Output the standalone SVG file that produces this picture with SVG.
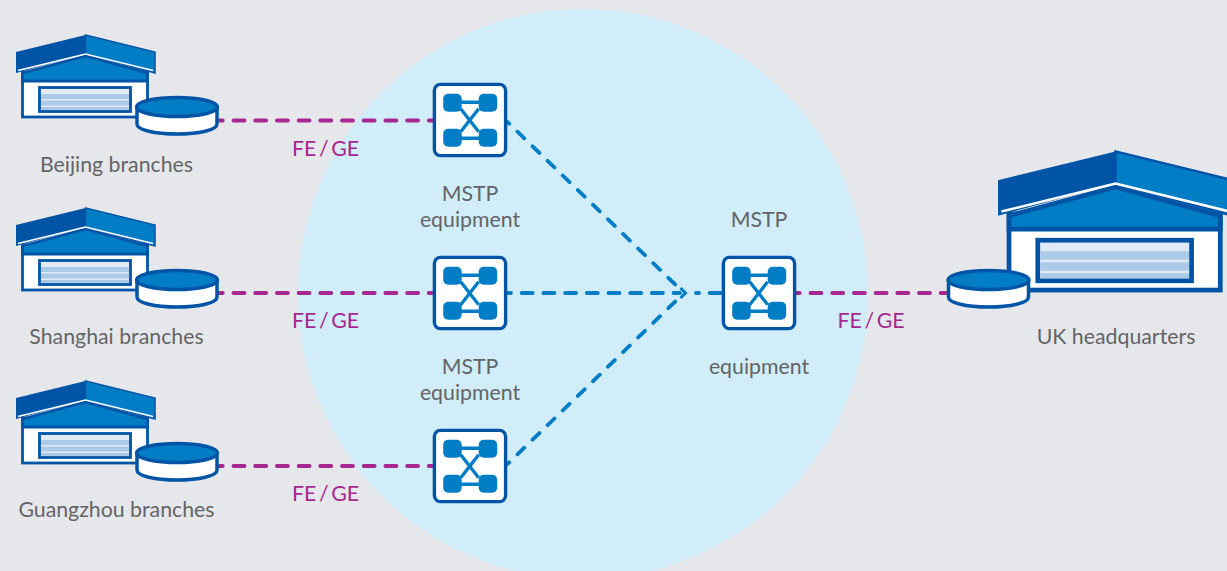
<svg xmlns="http://www.w3.org/2000/svg" width="1227" height="571" viewBox="0 0 1227 571">
<style>
text{font-family:Lato,"Liberation Sans",sans-serif;font-size:21.300px;fill:#636466;text-anchor:middle}
text.fe{fill:#a6278f;word-spacing:-2.800px}
.s{stroke:#0054a6;stroke-width:2.800;stroke-linejoin:miter}
.pl{stroke:#a6278f;stroke-width:3.800;stroke-linecap:round;stroke-dasharray:11 10.700;stroke-dashoffset:7.200;fill:none}
.bl{stroke:#007dc5;stroke-width:3.800;stroke-linecap:round;stroke-dasharray:11 10.700;stroke-dashoffset:8;fill:none}
.bd{stroke:#007dc5;stroke-width:3.800;stroke-linecap:round;stroke-dasharray:9.500 11.500;stroke-dashoffset:7.100;fill:none}
.n{fill:#007dc5}
</style>
<defs>
<g id="bld">
<rect x="22.500" y="72" width="125" height="45" fill="#fff" class="s"/>
<path d="M22.500 73L85.500 56L147.500 73V81H22.500Z" fill="#007dc5" class="s"/>
<path d="M16 52L85.500 35V54L16 73Z" fill="#0054a6"/>
<path d="M85.500 35L155 52V73L85.500 54Z" fill="#007dc5" stroke="#0054a6" stroke-width="1.500"/>
<path d="M18 70.500L85.500 54L153 70.500" fill="none" stroke="#fff" stroke-width="1.500"/>
<rect x="39.500" y="87.500" width="91" height="24" fill="#dfeaf6" class="s"/>
<path d="M41 94H129V99H41ZM41 100.500H129V105.500H41ZM41 107H129V110H41Z" fill="#adc9e8"/>
</g>
<g id="cyl">
<path d="M-40 0V17C-40 23 -22 27 0 27C22 27 40 23 40 17V0Z" fill="#fff" stroke="#0054a6" stroke-width="3.500"/>
<ellipse cx="0" cy="0" rx="40.500" ry="9.500" fill="#007dc5" stroke="#0054a6" stroke-width="3.500"/>
</g>
<g id="sw">
<rect x="1.700" y="1.700" width="71.200" height="71.200" rx="6" fill="#fff" stroke="#0054a6" stroke-width="3.400"/>
<path d="M20 19.500H55M20 55.500H55M28 26L46 49M46 26L28 49" fill="none" stroke="#007dc5" stroke-width="3.400"/>
<rect class="n" x="10.500" y="11" width="18.500" height="18" rx="5"/>
<rect class="n" x="46" y="11" width="18.500" height="18" rx="5"/>
<rect class="n" x="10.500" y="46" width="18.500" height="18" rx="5"/>
<rect class="n" x="46" y="46" width="18.500" height="18" rx="5"/>
</g>
</defs>
<rect width="1227" height="571" fill="#e6e7eb"/>
<circle cx="583" cy="294" r="285" fill="#d0edf9"/>
<g id="connectors">
<path class="pl" d="M219 120.500H433"/>
<path class="pl" d="M219 293H433"/>
<path class="pl" d="M219 466H433"/>
<path class="pl" d="M796 293H946"/>
<path class="bd" d="M507.500 122L682 291"/>
<path class="bl" d="M508 293H680"/>
<path class="bl" d="M696 293H722" stroke-dashoffset="0"/>
<path class="bd" d="M507.500 464L682 295"/>
<path d="M680.500 288L685.500 293L680.500 298" fill="none" stroke="#007dc5" stroke-width="3"/>
</g>
<g id="beijing"><use href="#bld"/><use href="#cyl" x="177" y="107"/><text x="116.500" y="172">Beijing branches</text></g>
<g id="shanghai"><use href="#bld" y="173"/><use href="#cyl" x="177" y="280"/><text x="116.500" y="344">Shanghai branches</text></g>
<g id="guangzhou"><use href="#bld" y="346"/><use href="#cyl" x="177" y="453"/><text x="116.500" y="517">Guangzhou branches</text></g>
<g id="uk"><use href="#bld" transform="translate(1115.500 151.500) scale(1.690) translate(-85.500 -35)"/><use href="#cyl" x="988.500" y="280"/><text x="1116" y="344">UK headquarters</text></g>
<g id="sw1"><use href="#sw" x="432.700" y="82.700"/><text x="470" y="201">MSTP</text><text x="470" y="227">equipment</text></g>
<g id="sw2"><use href="#sw" x="432.700" y="255.700"/><text x="470" y="374">MSTP</text><text x="470" y="400">equipment</text></g>
<g id="sw3"><use href="#sw" x="432.700" y="428.700"/></g>
<g id="sw4"><use href="#sw" x="721.700" y="255.700"/><text x="759" y="227">MSTP</text><text x="759" y="374">equipment</text></g>
<g id="labels">
<text class="fe" x="325.500" y="156">FE / GE</text>
<text class="fe" x="325.500" y="328">FE / GE</text>
<text class="fe" x="325.500" y="501">FE / GE</text>
<text class="fe" x="871" y="328">FE / GE</text>
</g>
</svg>
